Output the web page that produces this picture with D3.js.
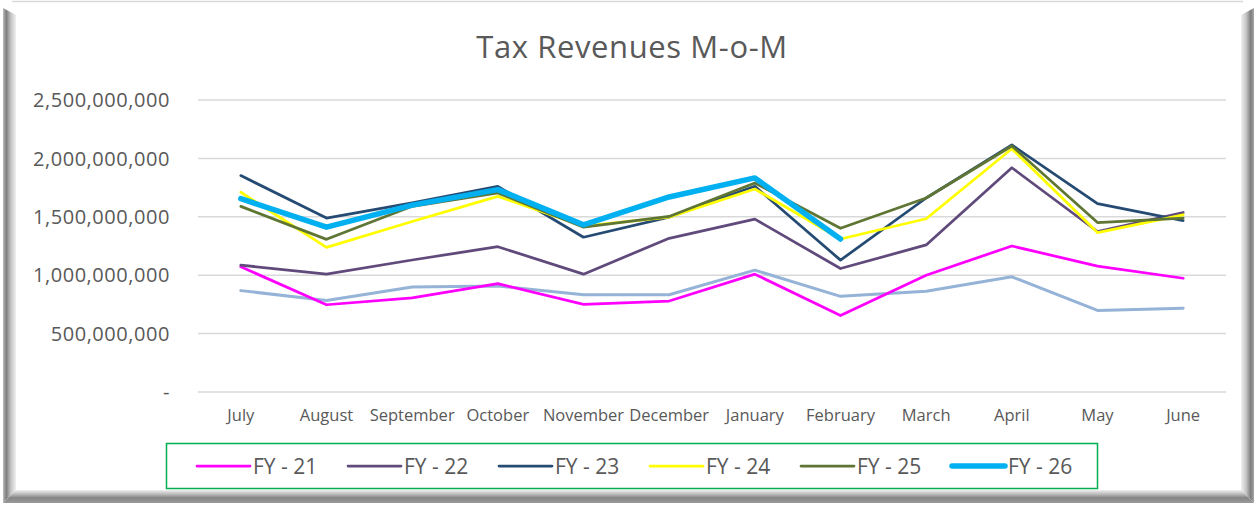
<!DOCTYPE html>
<html>
<head>
<meta charset="utf-8">
<script src="https://cdn.jsdelivr.net/npm/d3@7"></script>
<style>
  body { margin: 0; background: #fff; }
  svg text { font-family: "Open Sans", "Noto Sans", sans-serif; fill: #595959; }
</style>
</head>
<body>
<div id="chart"></div>
<script>
// months on the x axis
const months = ['July', 'August', 'September', 'October', 'November', 'December',
  'January', 'February', 'March', 'April', 'May', 'June'];

// values in billions
const fy20 = [0.868, 0.784, 0.899, 0.908, 0.833, 0.833, 1.043, 0.819, 0.862, 0.986, 0.698, 0.718];
const fy21 = [1.072, 0.747, 0.805, 0.928, 0.750, 0.779, 1.009, 0.655, 1.000, 1.250, 1.078, 0.974];
const fy22 = [1.086, 1.009, 1.130, 1.244, 1.009, 1.316, 1.480, 1.057, 1.259, 1.920, 1.374, 1.537];
const fy23 = [1.853, 1.489, 1.620, 1.761, 1.325, 1.497, 1.761, 1.129, 1.661, 2.115, 1.612, 1.468];
const fy24 = [1.710, 1.238, 1.460, 1.675, 1.420, 1.497, 1.738, 1.310, 1.483, 2.083, 1.365, 1.517];
const fy25 = [1.589, 1.307, 1.590, 1.704, 1.411, 1.503, 1.790, 1.402, 1.661, 2.106, 1.451, 1.488];
const fy26 = [1.655, 1.411, 1.600, 1.733, 1.431, 1.670, 1.833, 1.310];

const yTicks = [0, 500000000, 1000000000, 1500000000, 2000000000, 2500000000];

const series = [
  { name: 'FY - 20', vals: fy20, color: '#95B3D7', width: 3, legend: false },
  { name: 'FY - 21', vals: fy21, color: '#FF00FF', width: 2.75, legend: true },
  { name: 'FY - 22', vals: fy22, color: '#604A7B', width: 2.75, legend: true },
  { name: 'FY - 23', vals: fy23, color: '#254B73', width: 2.75, legend: true },
  { name: 'FY - 24', vals: fy24, color: '#FFFF00', width: 2.75, legend: true },
  { name: 'FY - 25', vals: fy25, color: '#5E7533', width: 2.75, legend: true },
  { name: 'FY - 26', vals: fy26, color: '#00B0F0', width: 5.5, legend: true }
];

const width = 1255, height = 506;
const svg = d3.select('#chart').append('svg')
  .attr('width', width)
  .attr('height', height);

// frame bevel
const defs = svg.append('defs');
function grad(id, x2, y2, stops) {
  const g = defs.append('linearGradient').attr('id', id)
    .attr('x1', 0).attr('y1', 0).attr('x2', x2).attr('y2', y2);
  stops.forEach(s => g.append('stop').attr('offset', s[0]).attr('stop-color', s[1]));
}
grad('gl', 1, 0, [[0, '#bdbdbd'], [0.25, '#7d7d7d'], [0.6, '#c4c4c4'], [1, '#f0f0f0']]);
grad('gr', 1, 0, [[0, '#f0f0f0'], [0.4, '#c4c4c4'], [0.75, '#7d7d7d'], [1, '#a8a8a8']]);
grad('gb', 0, 1, [[0, '#f0f0f0'], [0.35, '#b5b5b5'], [0.6, '#858585'], [1, '#9a9a9a']]);

svg.append('line').attr('x1', 12).attr('x2', 1243).attr('y1', 1.5).attr('y2', 1.5)
  .attr('stroke', '#d9d9d9').attr('stroke-width', 1.5);
svg.append('polygon').attr('points', '3,8 16,15 16,490 3,503').attr('fill', 'url(#gl)');
svg.append('polygon').attr('points', '1241,15 1254,8 1254,503 1241,490').attr('fill', 'url(#gr)');
svg.append('polygon').attr('points', '3,503 16,490 1241,490 1254,503').attr('fill', 'url(#gb)');

const margin = { left: 198, right: 29, top: 100, bottom: 114 };
const x = d3.scaleBand().domain(months).range([margin.left, width - margin.right]);
const y = d3.scaleLinear().domain([0, 2500000000]).range([height - margin.bottom, margin.top]);

// gridlines
svg.append('g')
  .selectAll('line')
  .data(yTicks)
  .enter().append('line')
  .attr('x1', margin.left)
  .attr('x2', width - margin.right)
  .attr('y1', d => y(d))
  .attr('y2', d => y(d))
  .attr('stroke', '#d9d9d9')
  .attr('stroke-width', 1.5);

// y labels
svg.append('g')
  .selectAll('text')
  .data(yTicks)
  .enter().append('text')
  .attr('x', 170)
  .attr('y', d => y(d))
  .attr('dy', '0.36em')
  .attr('text-anchor', 'end')
  .style('font-size', '20px')
  .style('letter-spacing', '0.55px')
  .text(d => d === 0 ? '-' : d3.format(',')(d));

// x labels
svg.append('g')
  .selectAll('text')
  .data(months)
  .enter().append('text')
  .attr('x', d => x(d) + x.bandwidth() / 2)
  .attr('y', 421)
  .attr('text-anchor', 'middle')
  .style('font-size', '16.5px')
  .text(d => d);

// title
svg.append('text')
  .attr('x', 632)
  .attr('y', 58)
  .attr('text-anchor', 'middle')
  .style('font-size', '31px')
  .style('letter-spacing', '0.6px')
  .text('Tax Revenues M-o-M');

// lines
const line = d3.line()
  .x((d, i) => x(months[i]) + x.bandwidth() / 2)
  .y(d => y(d * 1e9));

svg.append('g')
  .selectAll('path')
  .data(series)
  .enter().append('path')
  .attr('d', d => line(d.vals))
  .attr('fill', 'none')
  .attr('stroke', d => d.color)
  .attr('stroke-width', d => d.width)
  .attr('stroke-linejoin', 'round')
  .attr('stroke-linecap', 'round');

// legend
svg.append('rect')
  .attr('x', 166.5).attr('y', 443.5)
  .attr('width', 931).attr('height', 45)
  .attr('fill', 'none')
  .attr('stroke', '#00B050')
  .attr('stroke-width', 1.5);

const legendItems = series.filter(s => s.legend);
const leg = svg.append('g')
  .selectAll('g')
  .data(legendItems)
  .enter().append('g')
  .attr('transform', (d, i) => `translate(${197 + i * 151},466)`);

leg.append('line')
  .attr('x1', 0).attr('x2', 53)
  .attr('stroke', d => d.color)
  .attr('stroke-width', d => d.width)
  .attr('stroke-linecap', 'round');

leg.append('text')
  .attr('x', 56)
  .attr('dy', '0.36em')
  .style('font-size', '21px')
  .text(d => d.name);
</script>
</body>
</html>
